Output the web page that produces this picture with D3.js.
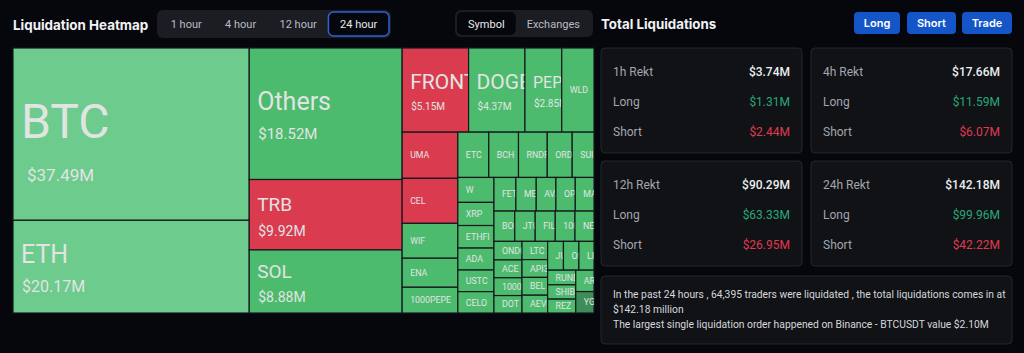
<!DOCTYPE html>
<html>
<head>
<meta charset="utf-8">
<script src="https://cdn.jsdelivr.net/npm/d3@7"></script>
<style>
html,body{margin:0;padding:0;background:#05070c;}
#chart{width:1024px;height:353px;overflow:hidden;}
</style>
</head>
<body>
<div id="chart"></div>
<script>
// treemap data (24 hour, by symbol), values in $M
const symbols = ["BTC","ETH","Others","TRB","SOL","FRONT","DOGE","PEPE","WLD","UMA","CEL","WIF","ENA","1000PEPE",
  "ETC","BCH","RNDR","ORDI","SUI","W","XRP","ETHFI","ADA","USTC","CELO","FET","MEME","AVAX","OP","MANTA",
  "BOME","JTO","FIL","1000SATS","NEAR","ONDO","ACE","1000BONK","DOT","LTC","API3","BEL","AEVO","JUP","OM","LINK",
  "RUNE","SHIB","REZ","ARB","YGG"];
const amounts = [37.49,20.17,18.52,9.92,8.88,5.15,4.37,2.85,2.50,2.37,2.31,1.79,1.49,1.32,
  1.29,1.24,1.20,1.04,0.91,0.83,0.77,0.75,0.73,0.72,0.71,0.68,0.63,0.61,0.60,0.58,
  0.58,0.57,0.56,0.55,0.53,0.48,0.46,0.46,0.45,0.43,0.42,0.42,0.42,0.42,0.41,0.40,
  0.38,0.37,0.36,0.36,0.36];
const shortDominant = ["TRB","FRONT","UMA","CEL"];
const strongLong = ["BTC","ETH"];
const neutral = ["YGG"];

// side panel data
const timeTabs = ["1 hour","4 hour","12 hour","24 hour"];
const viewTabs = ["Symbol","Exchanges"];
const actions = ["Long","Short","Trade"];
const periods = ["1h Rekt","4h Rekt","12h Rekt","24h Rekt"];
const totalRekt = [3.74,17.66,90.29,142.18];
const longRekt = [1.31,11.59,63.33,99.96];
const shortRekt = [2.44,6.07,26.95,42.22];
const summary = [
  "In the past 24 hours , 64,395 traders were liquidated , the total liquidations comes in at",
  "$142.18 million",
  "The largest single liquidation order happened on Binance - BTCUSDT value $2.10M"
];

const opt = {width:1024,height:353,mapX:13,mapY:48,mapW:581,mapH:265};
const uiFont = "Inter, 'Noto Sans', sans-serif";
const txtFont = "Roboto, 'Noto Sans', sans-serif";
const fmt = v => "$" + v.toFixed(2) + "M";

const svg = d3.select("#chart")
  .append("svg")
  .attr("width",opt.width)
  .attr("height",opt.height)
  .style("display","block");

svg.append("rect").attr("width",opt.width).attr("height",opt.height).attr("fill","#05070c");

// ---------- header left
svg.append("text")
  .attr("x",13).attr("y",30)
  .attr("font-family",uiFont).attr("font-weight",700).attr("font-size",13.4)
  .attr("fill","#f1f2f4")
  .text("Liquidation Heatmap");

function tabGroup(items, gx, gy, gw, gh, selected, outline){
  const g = svg.append("g");
  g.append("rect").attr("x",gx).attr("y",gy).attr("width",gw).attr("height",gh)
    .attr("rx",6).attr("fill","#1b1d23");
  const texts = items.map((t,i)=>g.append("text")
      .attr("y",gy+gh/2+4)
      .attr("font-family",txtFont).attr("font-size",11)
      .attr("fill",i===selected ? "#e9eaee" : "#b9bcc4")
      .attr("text-anchor","middle")
      .text(t));
  const lens = texts.map(t=>t.node().getComputedTextLength());
  const pad = (gw - 4 - d3.sum(lens))/(items.length*2);
  let x = gx + 2;
  texts.forEach((tx,i)=>{
    const w = lens[i] + pad*2;
    tx.attr("x",x + w/2);
    if(i===selected){
      g.insert("rect","text")
        .attr("x",x).attr("y",gy+2).attr("width",w).attr("height",gh-4)
        .attr("rx",5).attr("fill","#05070c")
        .attr("stroke",outline ? "#2c62d6" : "none").attr("stroke-width",1.5);
    }
    x += w;
  });
}
tabGroup(timeTabs,157,10,234,28,3,true);
tabGroup(viewTabs,455,10,138,27,0,false);

// ---------- treemap
const root = d3.hierarchy({children: symbols.map((s,i)=>({name:s,value:amounts[i]}))})
  .sum(d=>d.value||0)
  .sort((a,b)=>b.value-a.value);

d3.treemap()
  .tile(d3.treemapSquarify)
  .size([opt.mapW,opt.mapH])
  .round(false)(root);

const cellColor = d=>{
  const n = d.data.name;
  if(shortDominant.includes(n)) return "#da3b4f";
  if(strongLong.includes(n)) return "#6ccb8d";
  if(neutral.includes(n)) return "#3e8d59";
  return "#4dbb6e";
};

const nameSize = d3.scaleThreshold().domain([2.6,4,8,15,30]).range([8.8,16,21,19,25,48]);
const valueSize = d3.scaleThreshold().domain([2.6,8,15,19,30]).range([0,10,14,15,16,17]);

const map = svg.append("g").attr("transform","translate("+opt.mapX+","+opt.mapY+")");

const cells = map.selectAll("g.cell")
  .data(root.leaves())
  .enter()
  .append("g")
  .attr("class","cell")
  .attr("transform",d=>"translate("+d.x0+","+d.y0+")");

cells.append("clipPath")
  .attr("id",(d,i)=>"clip"+i)
  .append("rect")
  .attr("width",d=>d.x1-d.x0)
  .attr("height",d=>d.y1-d.y0);

cells.append("rect")
  .attr("width",d=>d.x1-d.x0)
  .attr("height",d=>d.y1-d.y0)
  .attr("fill",cellColor)
  .attr("stroke","#15181d")
  .attr("stroke-width",1.2);

const labels = cells.append("g").attr("clip-path",(d,i)=>"url(#clip"+i+")");

// drop characters that start beyond the cell's right edge (they are clipped anyway)
function fitText(sel, w){
  const node = sel.node();
  const s = sel.text();
  let k = s.length;
  while(k>1 && node.getStartPositionOfChar(k-1).x > w-1) k--;
  if(k<s.length) sel.text(s.slice(0,k));
}

labels.each(function(d){
  const g = d3.select(this);
  const w = d.x1-d.x0;
  const h = d.y1-d.y0;
  const cy = h/2;
  const ns = nameSize(d.value);
  const vs = valueSize(d.value);
  if(vs>0){
    const cap = ns*0.71;
    const dy = ns*0.55 + vs;
    const nb = cy - (dy-cap)/2 + 2 + Math.max(0,ns-30)*0.35;
    const t1 = g.append("text").attr("x",8).attr("y",nb)
      .attr("font-family",txtFont).attr("font-size",ns)
      .attr("fill","#e1e4e2").text(d.data.name);
    const t2 = g.append("text").attr("x",ns>30 ? 14 : 9).attr("y",nb+dy)
      .attr("font-family",txtFont).attr("font-size",vs)
      .attr("fill","#e1e4e2").text(fmt(d.value));
    fitText(t1,w); fitText(t2,w);
  } else {
    const t = g.append("text").attr("x",8).attr("y",cy+3.2)
      .attr("font-family",txtFont).attr("font-size",ns)
      .attr("fill","#e1e4e2").text(d.data.name);
    fitText(t,w);
  }
});

// ---------- right panel
svg.append("text")
  .attr("x",601).attr("y",29)
  .attr("font-family",uiFont).attr("font-weight",700).attr("font-size",13.3)
  .attr("fill","#f1f2f4")
  .text("Total Liquidations");

const btnX = [854,907,962];
const btnW = [46,49,50];
const btns = svg.selectAll("g.btn")
  .data(actions)
  .enter()
  .append("g")
  .attr("class","btn");
btns.append("rect")
  .attr("x",(d,i)=>btnX[i]).attr("y",12)
  .attr("width",(d,i)=>btnW[i]).attr("height",22)
  .attr("rx",4).attr("fill","#1456c8");
btns.append("text")
  .attr("x",(d,i)=>btnX[i]+btnW[i]/2).attr("y",27)
  .attr("text-anchor","middle")
  .attr("font-family",uiFont).attr("font-weight",600).attr("font-size",11)
  .attr("fill","#ffffff")
  .text(d=>d);

const cards = svg.selectAll("g.card")
  .data(periods)
  .enter()
  .append("g")
  .attr("class","card")
  .attr("transform",(d,i)=>"translate("+(601+(i%2)*210)+","+(48+Math.floor(i/2)*113)+")");

cards.append("rect")
  .attr("width",201).attr("height",105).attr("rx",4)
  .attr("fill","#101216").attr("stroke","#24272e");

const rowLabels = (d)=>[d,"Long","Short"];
cards.each(function(d,i){
  const g = d3.select(this);
  const vals = [totalRekt[i],longRekt[i],shortRekt[i]];
  const cols = ["#eceef1","#2aa877","#e0394e"];
  rowLabels(d).forEach((lab,j)=>{
    g.append("text").attr("x",12).attr("y",28+j*30)
      .attr("font-family",txtFont).attr("font-size",12)
      .attr("fill","#a3a6ad").text(lab);
    g.append("text").attr("x",189).attr("y",28+j*30)
      .attr("text-anchor","end")
      .attr("font-family",txtFont).attr("font-size",12)
      .attr("font-weight",j===0 ? 500 : 400)
      .attr("fill",cols[j]).text(fmt(vals[j]));
  });
});

const info = svg.append("g").attr("transform","translate(601,276)");
info.append("rect")
  .attr("width",411).attr("height",68).attr("rx",4)
  .attr("fill","#101216").attr("stroke","#24272e");
info.selectAll("text")
  .data(summary)
  .enter()
  .append("text")
  .attr("x",12)
  .attr("y",(d,i)=>22+i*15)
  .attr("font-family",txtFont).attr("font-size",10.3)
  .attr("fill","#d6d8dd")
  .text(d=>d);
</script>
</body>
</html>
